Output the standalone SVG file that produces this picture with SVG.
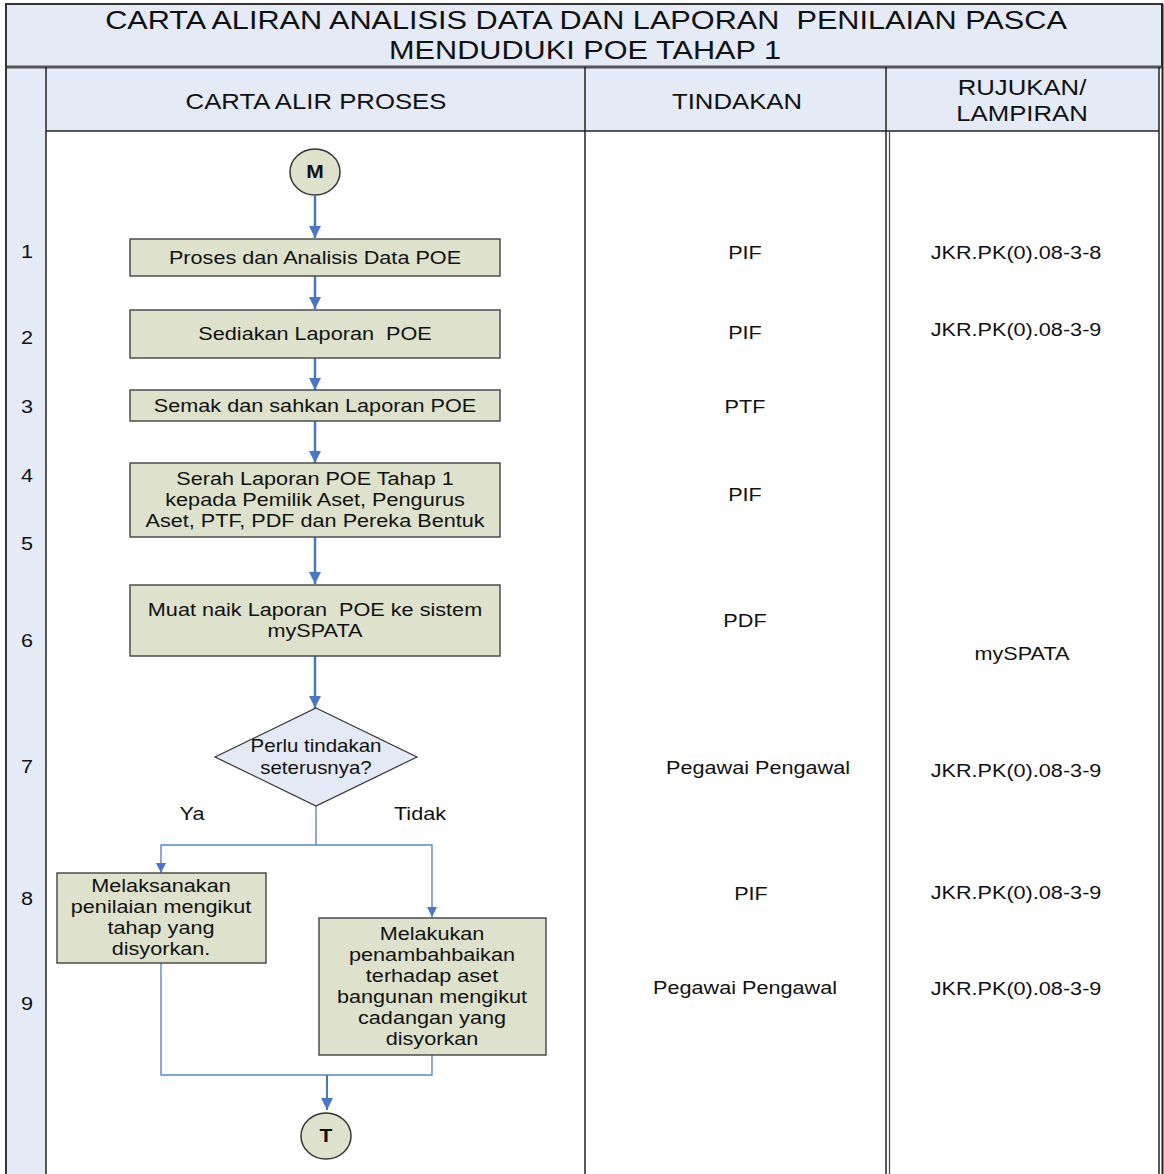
<svg xmlns="http://www.w3.org/2000/svg" width="1164" height="1174" viewBox="0 0 1164 1174">
<defs>
<style>
text{font-family:"Liberation Sans",Arial,sans-serif;fill:#111;text-anchor:middle;white-space:pre}
.t{font-size:18.5px}
.h{font-size:22px}
.ttl{font-size:26px}
.b{font-weight:bold;font-size:18px}
.box{fill:#dee2cc;stroke:#4d4d4d;stroke-width:1.5}
.hd{fill:#e5ebf6}
.ln{stroke:#222;stroke-width:1.5;fill:none}
.arr{stroke:#4a76c2;stroke-width:2.5;fill:none}
.thin{stroke:#5a86cc;stroke-width:1.4;fill:none}
</style>
<marker id="ah" viewBox="0 0 12 12" refX="12" refY="6" markerWidth="12" markerHeight="12" markerUnits="userSpaceOnUse" orient="auto"><path d="M0,0 L12,6 L0,12 z" fill="#4a76c2"/></marker>
<marker id="ahs" viewBox="0 0 10 10" refX="10" refY="5" markerWidth="10" markerHeight="10" markerUnits="userSpaceOnUse" orient="auto"><path d="M0,0 L10,5 L0,10 z" fill="#4a76c2"/></marker>
</defs>
<rect width="1164" height="1174" fill="#fff"/>
<g id="table">
<rect x="6" y="4" width="1156" height="63" class="hd" stroke="#333" stroke-width="2"/>
<rect x="6" y="67" width="40" height="1110" class="hd"/>
<rect x="46" y="67" width="1113" height="64" class="hd"/>
<line x1="6" y1="67" x2="1162" y2="67" stroke="#555" stroke-width="3"/>
<line x1="46" y1="131" x2="1159" y2="131" class="ln"/>
<line x1="6" y1="4" x2="6" y2="1174" stroke="#333" stroke-width="2"/>
<line x1="46" y1="67" x2="46" y2="1174" class="ln"/>
<line x1="585" y1="67" x2="585" y2="1174" class="ln"/>
<line x1="886" y1="67" x2="886" y2="1174" class="ln"/>
<line x1="889.5" y1="131" x2="889.5" y2="1174" stroke="#444" stroke-width="1.2"/>
<line x1="1159" y1="67" x2="1159" y2="1174" class="ln"/>
<line x1="1162.5" y1="4" x2="1162.5" y2="1174" stroke="#222" stroke-width="2"/>
<text class="ttl" transform="translate(586 20) scale(1.18 1)" y="9.3">CARTA ALIRAN ANALISIS DATA DAN LAPORAN  PENILAIAN PASCA</text>
<text class="ttl" transform="translate(585 50) scale(1.18 1)" y="9.3">MENDUDUKI POE TAHAP 1</text>
<text class="h" transform="translate(316 101) scale(1.17 1)" y="7.8">CARTA ALIR PROSES</text>
<text class="h" transform="translate(737 101) scale(1.17 1)" y="7.8">TINDAKAN</text>
<text class="h" transform="translate(1022 87) scale(1.17 1)" y="7.8">RUJUKAN/</text>
<text class="h" transform="translate(1022 113) scale(1.17 1)" y="7.8">LAMPIRAN</text>
</g>
<g id="steps">
<text class="t" transform="translate(27 251) scale(1.17 1)" y="6.5">1</text>
<text class="t" transform="translate(27 337) scale(1.17 1)" y="6.5">2</text>
<text class="t" transform="translate(27 406) scale(1.17 1)" y="6.5">3</text>
<text class="t" transform="translate(27 475) scale(1.17 1)" y="6.5">4</text>
<text class="t" transform="translate(27 543) scale(1.17 1)" y="6.5">5</text>
<text class="t" transform="translate(27 640) scale(1.17 1)" y="6.5">6</text>
<text class="t" transform="translate(27 766) scale(1.17 1)" y="6.5">7</text>
<text class="t" transform="translate(27 898) scale(1.17 1)" y="6.5">8</text>
<text class="t" transform="translate(27 1003) scale(1.17 1)" y="6.5">9</text>
</g>
<g id="connectors">
<line x1="315" y1="196" x2="315" y2="238" class="arr" marker-end="url(#ah)"/>
<line x1="315" y1="276" x2="315" y2="309" class="arr" marker-end="url(#ah)"/>
<line x1="315" y1="358" x2="315" y2="390" class="arr" marker-end="url(#ah)"/>
<line x1="315" y1="421" x2="315" y2="463" class="arr" marker-end="url(#ah)"/>
<line x1="315" y1="537" x2="315" y2="584" class="arr" marker-end="url(#ah)"/>
<line x1="315" y1="656" x2="315" y2="708" class="arr" marker-end="url(#ah)"/>
<path d="M316,806 V845 H161 V873" class="thin" marker-end="url(#ahs)"/>
<path d="M316,845 H432 V917" class="thin" marker-end="url(#ahs)"/>
<path d="M161,963 V1075 H432 V1055" class="thin"/>
<line x1="327" y1="1075" x2="327" y2="1110" stroke="#4a76c2" stroke-width="2" marker-end="url(#ah)"/>
<text class="t" transform="translate(192 813) scale(1.17 1)" y="6.5">Ya</text>
<text class="t" transform="translate(420 813) scale(1.17 1)" y="6.5">Tidak</text>
</g>
<g id="start">
<ellipse cx="315" cy="172" rx="25" ry="23" fill="#dee2cc" stroke="#333" stroke-width="1.5"/>
<text class="b" transform="translate(315 172) scale(1.17 1)" y="6.3">M</text>
</g>
<g id="n1">
<rect x="130" y="239" width="370" height="37" class="box"/>
<text class="t" transform="translate(315 257) scale(1.17 1)" y="6.5">Proses dan Analisis Data POE</text>
</g>
<g id="n2">
<rect x="130" y="310" width="370" height="48" class="box"/>
<text class="t" transform="translate(315 333) scale(1.17 1)" y="6.5">Sediakan Laporan  POE</text>
</g>
<g id="n3">
<rect x="130" y="390" width="370" height="31" class="box"/>
<text class="t" transform="translate(315 405) scale(1.17 1)" y="6.5">Semak dan sahkan Laporan POE</text>
</g>
<g id="n4">
<rect x="130" y="463" width="370" height="74" class="box"/>
<text class="t" transform="translate(315 478) scale(1.17 1)" y="6.5"><tspan x="0">Serah Laporan POE Tahap 1</tspan><tspan x="0" dy="21.5">kepada Pemilik Aset, Pengurus</tspan><tspan x="0" dy="21.5">Aset, PTF, PDF dan Pereka Bentuk</tspan></text>
</g>
<g id="n5">
<rect x="130" y="585" width="370" height="71" class="box"/>
<text class="t" transform="translate(315 609) scale(1.17 1)" y="6.5"><tspan x="0">Muat naik Laporan  POE ke sistem</tspan><tspan x="0" dy="21.5">mySPATA</tspan></text>
</g>
<g id="decision">
<polygon points="316,708 417,757 316,806 215,757" fill="#e3e9f5" stroke="#333" stroke-width="1.2"/>
<text class="t" style="font-size:17.5px" transform="translate(316 746) scale(1.17 1)" y="6.2"><tspan x="0">Perlu tindakan</tspan><tspan x="0" dy="22">seterusnya?</tspan></text>
</g>
<g id="n8">
<rect x="57" y="873" width="209" height="90" class="box"/>
<text class="t" transform="translate(161 885) scale(1.17 1)" y="6.5"><tspan x="0">Melaksanakan</tspan><tspan x="0" dy="21.3">penilaian mengikut</tspan><tspan x="0" dy="21.3">tahap yang</tspan><tspan x="0" dy="21.3">disyorkan.</tspan></text>
</g>
<g id="n9">
<rect x="319" y="918" width="227" height="137" class="box"/>
<text class="t" transform="translate(432 933) scale(1.17 1)" y="6.5"><tspan x="0">Melakukan</tspan><tspan x="0" dy="21.2">penambahbaikan</tspan><tspan x="0" dy="21.2">terhadap aset</tspan><tspan x="0" dy="21.2">bangunan mengikut</tspan><tspan x="0" dy="21.2">cadangan yang</tspan><tspan x="0" dy="21.2">disyorkan</tspan></text>
</g>
<g id="end">
<ellipse cx="326" cy="1136" rx="25" ry="23" fill="#dee2cc" stroke="#333" stroke-width="1.5"/>
<text class="b" transform="translate(326 1136) scale(1.17 1)" y="6.3">T</text>
</g>
<g id="tindakan">
<text class="t" transform="translate(745 252) scale(1.17 1)" y="6.5">PIF</text>
<text class="t" transform="translate(745 332) scale(1.17 1)" y="6.5">PIF</text>
<text class="t" transform="translate(745 406) scale(1.17 1)" y="6.5">PTF</text>
<text class="t" transform="translate(745 494) scale(1.17 1)" y="6.5">PIF</text>
<text class="t" transform="translate(745 620) scale(1.17 1)" y="6.5">PDF</text>
<text class="t" transform="translate(758 767) scale(1.17 1)" y="6.5">Pegawai Pengawal</text>
<text class="t" transform="translate(751 893) scale(1.17 1)" y="6.5">PIF</text>
<text class="t" transform="translate(745 987) scale(1.17 1)" y="6.5">Pegawai Pengawal</text>
</g>
<g id="rujukan">
<text class="t" transform="translate(1016 252) scale(1.17 1)" y="6.5">JKR.PK(0).08-3-8</text>
<text class="t" transform="translate(1016 329) scale(1.17 1)" y="6.5">JKR.PK(0).08-3-9</text>
<text class="t" transform="translate(1022 653) scale(1.17 1)" y="6.5">mySPATA</text>
<text class="t" transform="translate(1016 770) scale(1.17 1)" y="6.5">JKR.PK(0).08-3-9</text>
<text class="t" transform="translate(1016 892) scale(1.17 1)" y="6.5">JKR.PK(0).08-3-9</text>
<text class="t" transform="translate(1016 988) scale(1.17 1)" y="6.5">JKR.PK(0).08-3-9</text>
</g>
</svg>
